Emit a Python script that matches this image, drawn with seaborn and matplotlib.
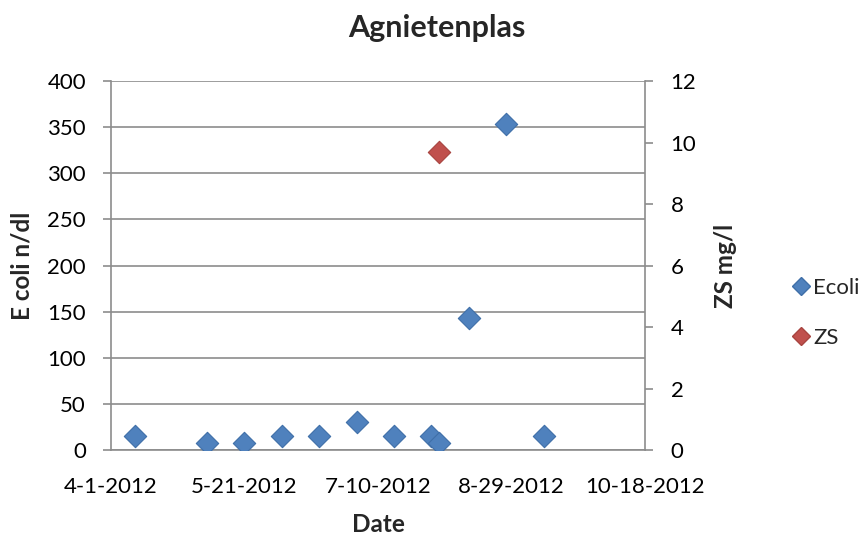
import matplotlib
matplotlib.use("Agg")
import matplotlib.pyplot as plt
import matplotlib.dates as mdates
from matplotlib.lines import Line2D
import seaborn as sns
import pandas as pd

# Sampling dates and measurements
ecoli_dates = ["2012-04-10", "2012-05-07", "2012-05-21", "2012-06-04", "2012-06-18",
               "2012-07-02", "2012-07-16", "2012-07-30", "2012-08-02", "2012-08-13",
               "2012-08-27", "2012-09-10"]
ecoli_values = [15, 8, 8, 15, 15, 30, 15, 15, 8, 143, 353, 15]
zs_dates = ["2012-08-02"]
zs_values = [9.7]

x_tick_dates = ["2012-04-01", "2012-05-21", "2012-07-10", "2012-08-29", "2012-10-18"]
left_ticks = [0, 50, 100, 150, 200, 250, 300, 350, 400]
right_ticks = [0, 2, 4, 6, 8, 10, 12]

ecoli_df = pd.DataFrame({"date": pd.to_datetime(ecoli_dates), "value": ecoli_values})
zs_df = pd.DataFrame({"date": pd.to_datetime(zs_dates), "value": zs_values})

sns.set_style("white")
plt.rcParams["font.family"] = ["Lato", "DejaVu Sans"]

blue = "#4F81BD"
blue_edge = "#3F6FA8"
red = "#C0504D"
red_edge = "#A84440"
gray = "#8C8C8C"
tick_fs = 16
label_fs = 17.5

fig = plt.figure(figsize=(8.67, 5.36), dpi=100)
ax = fig.add_axes([0.1280, 0.1604, 0.6159, 0.6884])

sns.scatterplot(data=ecoli_df, x="date", y="value", ax=ax, marker="D", s=130,
                color=blue, edgecolor=blue_edge, linewidth=0.8, zorder=3, legend=False)

ax2 = ax.twinx()
sns.scatterplot(data=zs_df, x="date", y="value", ax=ax2, marker="D", s=130,
                color=red, edgecolor=red_edge, linewidth=0.8, zorder=3, legend=False)

xt = pd.to_datetime(x_tick_dates)
ax.set_xlim(xt[0], xt[-1])
ax.set_xticks(xt)
ax.xaxis.set_major_formatter(plt.FuncFormatter(
    lambda v, p: (lambda d: f"{d.month}-{d.day}-{d.year}")(mdates.num2date(v))))

ax.set_ylim(0, 400)
ax.set_yticks(left_ticks)
ax2.set_ylim(0, 12)
ax2.set_yticks(right_ticks)

ax.yaxis.grid(True, color=gray, linewidth=1.2)
ax.xaxis.grid(False)
ax.set_axisbelow(True)

for a in (ax, ax2):
    a.spines["top"].set_visible(False)
    a.tick_params(axis="both", direction="out", length=6, width=1.2, color=gray,
                  labelsize=tick_fs, labelcolor="black")
ax.spines["right"].set_visible(False)
for side in ("left", "bottom"):
    ax.spines[side].set_color(gray)
    ax.spines[side].set_linewidth(1.2)
ax2.spines["left"].set_visible(False)
ax2.spines["bottom"].set_visible(False)
ax2.spines["right"].set_color(gray)
ax2.spines["right"].set_linewidth(1.2)
ax.tick_params(axis="x", pad=13.5)
ax.tick_params(axis="y", pad=12)
ax2.tick_params(axis="y", pad=12.5)

ax.set_xlabel("Date", fontsize=label_fs, fontweight="bold")
ax.xaxis.label.set_va("center")
ax.xaxis.set_label_coords(0.5, -0.203)

ax.set_ylabel("E coli n/dl", fontsize=label_fs, fontweight="bold")
ax.yaxis.label.set_va("center")
ax.yaxis.set_label_coords(-0.167, 0.5)

ax2.set_ylabel("ZS mg/l", fontsize=label_fs, fontweight="bold", rotation=90)
ax2.yaxis.label.set_va("center")
ax2.yaxis.set_label_coords(1.150, 0.5)

fig.text(0.504, 0.947, "Agnietenplas", ha="center", va="center",
         fontsize=22, fontweight="bold")

handles = [
    Line2D([], [], marker="D", linestyle="none", markersize=9, color=blue,
           markeredgecolor=blue_edge, label="Ecoli"),
    Line2D([], [], marker="D", linestyle="none", markersize=9, color=red,
           markeredgecolor=red_edge, label="ZS"),
]
fig.legend(handles=handles, loc="upper left", bbox_to_anchor=(0.911, 0.482),
           frameon=False, fontsize=tick_fs, handletextpad=0.05, labelspacing=1.35,
           handlelength=1.0, borderaxespad=0, borderpad=0)

fig.savefig("out.png", dpi=100)
